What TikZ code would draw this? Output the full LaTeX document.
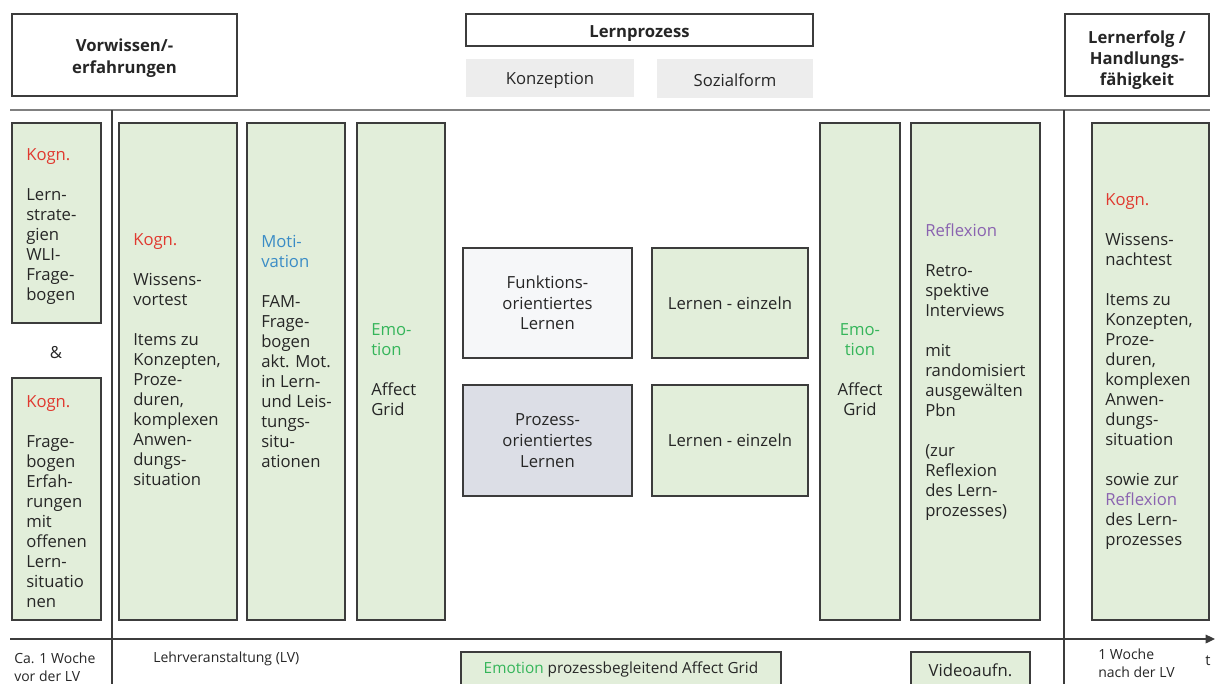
\documentclass[tikz,border=0pt]{standalone}
\usepackage{fontspec}
\setmainfont{Open Sans}
\usetikzlibrary{arrows.meta,fit}

\definecolor{boxgreen}{HTML}{E2EEDA}
\definecolor{framegray}{HTML}{3C3C3C}
\definecolor{rulegray}{HTML}{808080}
\definecolor{headgray}{HTML}{EDEDED}
\definecolor{funkfill}{HTML}{F6F7F9}
\definecolor{prozfill}{HTML}{DCDEE6}
\definecolor{txtgray}{HTML}{262626}
\definecolor{kogncol}{HTML}{E0392F}
\definecolor{moticol}{HTML}{3A8CC6}
\definecolor{emocol}{HTML}{35B55A}
\definecolor{reflcol}{HTML}{8A63B0}

\newcommand{\kg}[1]{\textcolor{kogncol}{#1}}
\newcommand{\mt}[1]{\textcolor{moticol}{#1}}
\newcommand{\emo}[1]{\textcolor{emocol}{#1}}
\newcommand{\rf}[1]{\textcolor{reflcol}{#1}}

\begin{document}
\begin{tikzpicture}[x=0.75pt,y=-0.75pt,
  every node/.style={text=txtgray},
  frame/.style={draw=framegray,line width=1.1pt,inner sep=0pt},
  gbox/.style={frame,fill=boxgreen},
  headbox/.style={frame,fill=white},
  headtext/.style={inner sep=0pt,align=center,yshift=-2.3pt,font=\fontsize{12.5}{16}\selectfont\bfseries},
  subhead/.style={fill=headgray,inner sep=0pt},
  plaintext/.style={inner sep=0pt,align=center,font=\fontsize{12.5}{15.5}\selectfont},
  coltext/.style={anchor=north west,inner sep=0pt,align=left,font=\fontsize{12.5}{15}\selectfont},
  smalltext/.style={anchor=north west,inner sep=0pt,align=left,font=\fontsize{10.5}{13.5}\selectfont},
  rule/.style={draw=rulegray,line width=0.8pt},
  divider/.style={draw=framegray,line width=0.8pt}
]
\useasboundingbox (0,0) rectangle (1216,683);
\clip (0,0) rectangle (1216,683);

% header boxes
\node[headbox,fit={(12,14)(237,96)}] (hpre) {};
\node[headtext] at (hpre.center) {Vorwissen/-\\erfahrungen};
\node[headbox,fit={(466,14)(813,46)}] (hproc) {};
\node[headtext] at (hproc.center) {Lernprozess};
\node[headbox,fit={(1065,14)(1209,96)}] (hpost) {};
\node[headtext,font=\fontsize{12.5}{15.5}\selectfont\bfseries] at ([yshift=-1.5pt]hpost.center) {Lernerfolg /\\Handlungs-\\fähigkeit};
\node[subhead,fit={(466,59)(634,97)}] (hkonz) {};
\node[plaintext,yshift=-1.5pt] at (hkonz.center) {Konzeption};
\node[subhead,fit={(657,59)(813,98)}] (hsoz) {};
\node[plaintext,yshift=-1.5pt] at (hsoz.center) {Sozialform};

% separating rules
\coordinate (rl) at (10,110);
\coordinate (rr) at (1210,110);
\path[rule] (rl) -- (rr);
\coordinate (d1t) at (112,110);
\coordinate (d1b) at (112,690);
\coordinate (d2t) at (1064,110);
\coordinate (d2b) at (1064,690);
\path[divider] (d1t) -- (d1b);
\path[divider] (d2t) -- (d2b);

% before the course
\node[gbox,fit={(12,123)(101,323)}] (pre1) {};
\node[coltext] (pre1t) at (26,148) {\kg{Kogn.}\\[15pt]Lern-\\strate-\\gien\\WLI-\\Frage-\\bogen};
\node[plaintext] (amp) at (56,353) {\&};
\node[gbox,fit={(12,378)(101,620)}] (pre2) {};
\node[coltext] (pre2t) at (26,395) {\kg{Kogn.}\\[15pt]Frage-\\bogen\\Erfah-\\rungen\\mit\\offenen\\Lern-\\situatio\\nen};

% during the course
\node[gbox,fit={(119,123)(237,620)}] (colA) {};
\node[coltext] (colAt) at (133,233) {\kg{Kogn.}\\[15pt]Wissens-\\vortest\\[15pt]Items zu\\Konzepten,\\Proze-\\duren,\\komplexen\\Anwen-\\dungs-\\situation};
\node[gbox,fit={(247,123)(345,620)}] (colB) {};
\node[coltext] (colBt) at (261,235) {\mt{Moti-}\\\mt{vation}\\[15pt]FAM-\\Frage-\\bogen\\akt. Mot.\\in Lern-\\und Leis-\\tungs-\\situ-\\ationen};
\node[gbox,fit={(357,123)(445,620)}] (colC) {};
\node[coltext] (colCt) at (371,323) {\emo{Emo-}\\\emo{tion}\\[15pt]Affect\\Grid};

% concept and social form
\node[frame,fill=funkfill,fit={(463,248)(632,358)}] (funk) {};
\node[plaintext] at (funk.center) {Funktions-\\orientiertes\\Lernen};
\node[gbox,fit={(652,248)(808,358)}] (einz1) {};
\node[plaintext] at (einz1.center) {Lernen - einzeln};
\node[frame,fill=prozfill,fit={(463,385)(632,496)}] (proz) {};
\node[plaintext] at (proz.center) {Prozess-\\orientiertes\\Lernen};
\node[gbox,fit={(652,385)(808,496)}] (einz2) {};
\node[plaintext] at (einz2.center) {Lernen - einzeln};

\node[gbox,fit={(820,123)(900,620)}] (colD) {};
\node[coltext,anchor=north,align=center] (colDt) at (860,323) {\emo{Emo-}\\\emo{tion}\\[15pt]Affect\\Grid};
\node[gbox,fit={(911,123)(1040,620)}] (colE) {};
\node[coltext] (colEt) at (925,223) {\rf{Reflexion}\\[15pt]Retro-\\spektive\\Interviews\\[15pt]mit\\randomisiert\\ausgewälten\\Pbn\\[15pt](zur\\Reflexion\\des Lern-\\prozesses)};

% after the course
\node[gbox,fit={(1092,123)(1209,620)}] (colF) {};
\node[coltext] (colFt) at (1105,193) {\kg{Kogn.}\\[15pt]Wissens-\\nachtest\\[15pt]Items zu\\Konzepten,\\Proze-\\duren,\\komplexen\\Anwen-\\dungs-\\situation\\[15pt]sowie zur\\\rf{Reflexion}\\des Lern-\\prozesses};

% time axis
\coordinate (t0) at (10,639);
\coordinate (t1) at (1215,639);
\draw[draw=framegray,line width=0.9pt,-{Triangle[length=7pt,width=6.5pt]}] (t0) -- (t1);
\node[anchor=west,inner sep=0pt,font=\fontsize{11}{13}\selectfont] (tlab) at (1205,661) {t};

\node[smalltext] (wpre) at (14,653) {Ca. 1 Woche\\vor der LV};
\node[smalltext] (wlv) at (153,652) {Lehrveranstaltung (LV)};
\node[smalltext] (wpost) at (1098,649) {1 Woche\\nach der LV};

\node[gbox,fit={(461,652)(781,685)}] (emobar) {};
\node[plaintext,font=\fontsize{11.5}{14}\selectfont] at ([yshift=-1pt]emobar.center) {\emo{Emotion} prozessbegleitend Affect Grid};
\node[gbox,fit={(911,652)(1030,685)}] (video) {};
\node[plaintext] at ([yshift=-1pt]video.center) {Videoaufn.};
\end{tikzpicture}
\end{document}
